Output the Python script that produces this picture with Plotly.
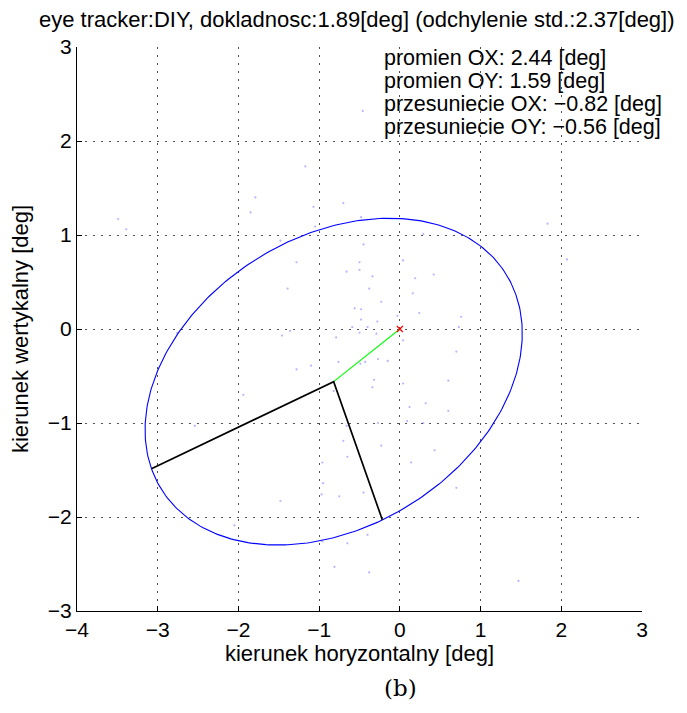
import numpy as np
import plotly.graph_objects as go

# --- data ---
title_text = "eye tracker:DIY, dokladnosc:1.89[deg] (odchylenie std.:2.37[deg])"
radius_ox = 2.44
radius_oy = 1.59
shift_ox = -0.82
shift_oy = -0.56
angle_deg = 22.3

gaze_x = [-1.17, -1.79, -1.85, -1.07, -0.70, -0.48, -3.49, -3.39, -1.05, -1.48,
          -0.45, -1.28, -0.50, -0.50, -0.66, -1.39, -0.38, -0.56, -0.48, -0.48,
          -0.59, -0.50, -1.46, -1.36, -0.79, -2.76, -0.76, -1.10, -0.43, 1.83,
          0.29, 2.07, 0.04, -0.34, 0.42, 0.19, 0.16, -0.23, 0.24, -0.03,
          0.76, -0.28, -0.40, 0.73, -0.29, 0.04, 0.70, -0.27, -0.15, -0.49,
          -1.28, -1.94, -2.54, -0.66, -0.70, -0.65, -0.95, -0.97, -0.75, -0.45,
          -1.48, -2.05, -0.65, -0.81, -0.38, -0.32, 0.60, -0.34, 0.04, -0.82,
          0.32, 0.12, 0.60, 0.09, -0.27, 0.29, -0.23, 0.43, -0.96, 0.14,
          0.70, -0.40, -0.96, 1.47, -0.46]
gaze_y = [1.73, 1.40, 1.24, 1.30, 1.34, 1.19, 1.17, 1.06, 1.09, 0.94,
          0.90, 0.71, 0.71, 0.63, 0.61, 0.43, 0.43, 0.22, 0.21, 0.10,
          0.02, -0.04, -0.07, -0.02, -0.09, -0.04, -0.35, -0.39, -0.35, 1.12,
          1.01, 0.74, 0.73, 0.56, 0.58, 0.54, 0.38, 0.29, 0.17, 0.14,
          0.13, 0.08, 0.02, 0.02, -0.05, -0.12, -0.24, -0.32, -0.34, -0.37,
          -0.43, -0.70, -1.03, -1.03, -1.19, -1.36, -1.64, -1.76, -1.78, -1.74,
          -1.83, -2.09, -2.28, -2.53, -2.59, -0.54, -0.55, -0.62, -0.58, -0.66,
          -0.79, -0.83, -0.87, -0.98, -1.00, -1.00, -1.24, -1.29, -1.42, -1.42,
          -1.69, -2.19, -2.26, -2.68, 2.32]

x_ticks = [-4, -3, -2, -1, 0, 1, 2, 3]
y_ticks = [-3, -2, -1, 0, 1, 2, 3]
x_label = "kierunek horyzontalny [deg]"
y_label = "kierunek wertykalny [deg]"
info_lines = [
    "promien OX: 2.44 [deg]",
    "promien OY: 1.59 [deg]",
    "przesuniecie OX: \u22120.82 [deg]",
    "przesuniecie OY: \u22120.56 [deg]",
]

# --- ellipse geometry from its parameters ---
th = np.deg2rad(angle_deg)
t = np.linspace(0, 2 * np.pi, 361)
ex = shift_ox + radius_ox * np.cos(t) * np.cos(th) - radius_oy * np.sin(t) * np.sin(th)
ey = shift_oy + radius_ox * np.cos(t) * np.sin(th) + radius_oy * np.sin(t) * np.cos(th)
major_end = (shift_ox - radius_ox * np.cos(th), shift_oy - radius_ox * np.sin(th))
minor_end = (shift_ox + radius_oy * np.sin(th), shift_oy - radius_oy * np.cos(th))

FONT = "Liberation Sans"
TXT = 22
TICK = 21

fig = go.Figure()
fig.add_trace(go.Scatter(x=gaze_x, y=gaze_y, mode="markers",
                         marker=dict(color="rgba(70,70,255,0.4)", size=2.2, line=dict(width=0)),
                         hoverinfo="skip"))
fig.add_trace(go.Scatter(x=ex, y=ey, mode="lines", line=dict(color="#0000ff", width=1.1)))
fig.add_trace(go.Scatter(x=[0, shift_ox], y=[0, shift_oy], mode="lines",
                         line=dict(color="#00ff00", width=1.1)))
fig.add_trace(go.Scatter(x=[major_end[0], shift_ox, minor_end[0]],
                         y=[major_end[1], shift_oy, minor_end[1]], mode="lines",
                         line=dict(color="#000000", width=1.7)))
fig.add_trace(go.Scatter(x=[0], y=[0], mode="markers",
                         marker=dict(symbol="x-thin", color="#ff0000", size=6,
                                     line=dict(color="#ff0000", width=1.2))))

def tick_txt(v):
    return ("\u2212" + str(abs(v))) if v < 0 else str(v)

axis_common = dict(
    showgrid=True, gridcolor="#505050", griddash="2px,6px", gridwidth=1,
    showline=True, linecolor="#000000", linewidth=1.2, mirror=False,
    ticks="inside", ticklen=5, tickcolor="#000000", tickwidth=1,
    zeroline=False, tickfont=dict(family=FONT, size=TICK, color="#000000"),
)

fig.update_xaxes(range=[-4, 3], tickvals=x_ticks, ticktext=[tick_txt(v) for v in x_ticks],
                 title=dict(text=x_label, font=dict(family=FONT, size=TXT, color="#000"), standoff=2),
                 **axis_common)
fig.update_yaxes(range=[-3, 3], tickvals=y_ticks, ticktext=[tick_txt(v) for v in y_ticks],
                 title=dict(text=y_label, font=dict(family=FONT, size=TXT, color="#000"), standoff=13),
                 **axis_common)

for i, line in enumerate(info_lines):
    fig.add_annotation(xref="paper", yref="paper", x=0.542, y=0.980 - i * 0.0405,
                       xanchor="left", yanchor="middle", text=line, showarrow=False,
                       borderpad=0,
                       font=dict(family=FONT, size=21.5, color="#000"))
fig.add_annotation(xref="paper", yref="paper", x=0.496, y=1.048, xanchor="center",
                   yanchor="middle", text=title_text, showarrow=False,
                   font=dict(family=FONT, size=TXT, color="#000"))
fig.add_annotation(xref="paper", yref="paper", x=0.572, y=-0.1365, xanchor="center",
                   yanchor="middle", text="(b)", showarrow=False,
                   font=dict(family="DejaVu Serif", size=23, color="#000"))

fig.update_layout(
    width=687, height=713, showlegend=False,
    plot_bgcolor="white", paper_bgcolor="white",
    margin=dict(l=77, r=45, t=47, b=102),
)
fig.write_html("out.html")
